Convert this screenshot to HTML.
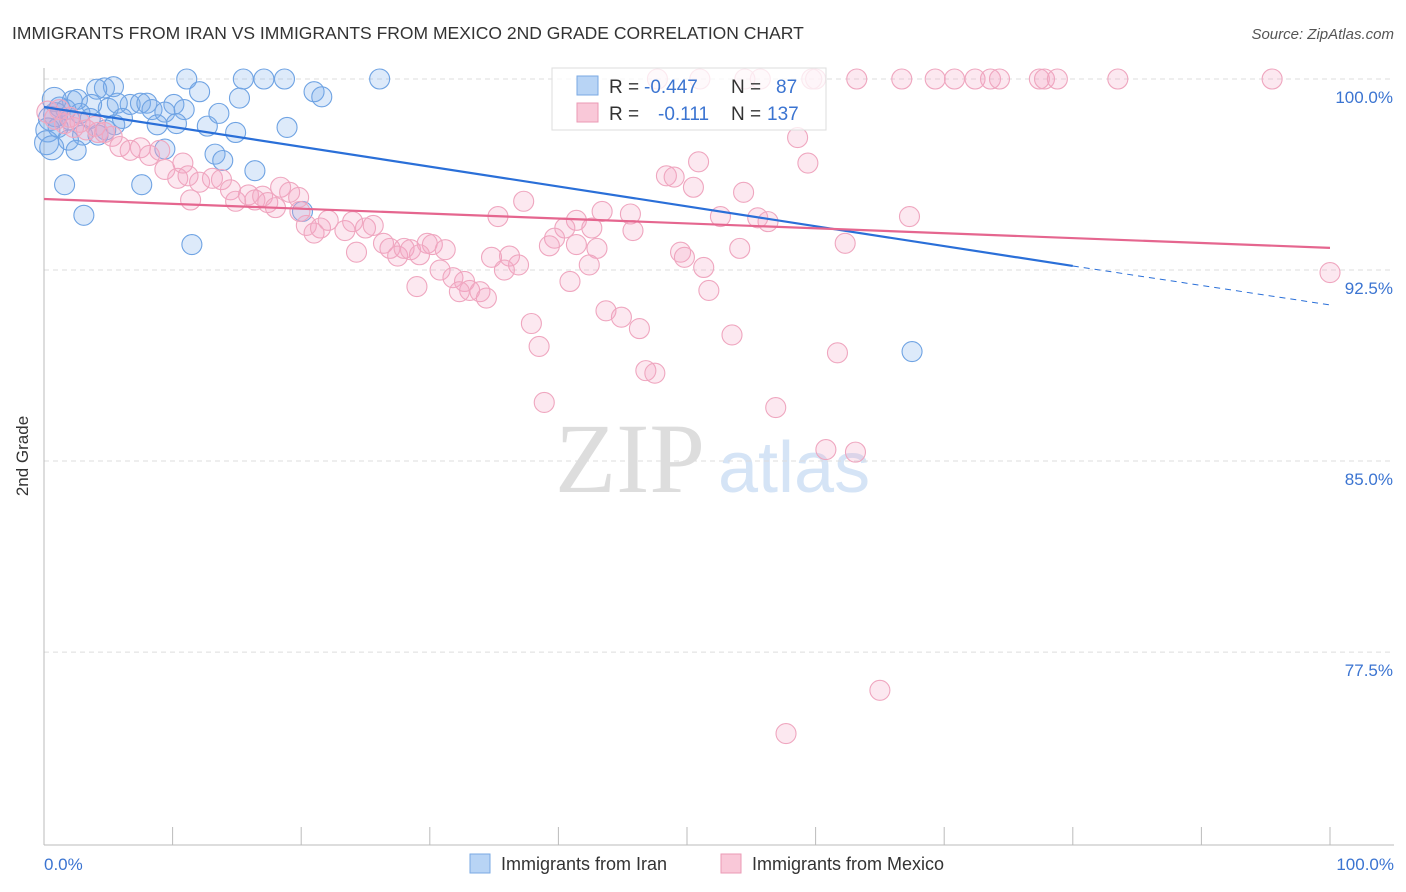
<!DOCTYPE html>
<html><head><meta charset="utf-8"><style>
body{margin:0;background:#fff;font-family:"Liberation Sans",sans-serif}
svg{display:block}
</style></head><body>
<svg id="chart" width="1406" height="892">
<text x="12" y="39" font-size="17.5" fill="#333">IMMIGRANTS FROM IRAN VS IMMIGRANTS FROM MEXICO 2ND GRADE CORRELATION CHART</text>
<text x="1394" y="39" font-size="15" fill="#555" font-style="italic" text-anchor="end">Source: ZipAtlas.com</text>
<text x="555" y="492" font-size="100" font-family="Liberation Serif,serif" fill="#ddd">ZIP</text>
<text x="718" y="492" font-size="72" fill="#d5e4f6">atlas</text>
<g id="grid"></g>
<line x1="44" y1="68" x2="44" y2="845" stroke="#bbb"/>
<line x1="44" y1="845" x2="1394" y2="845" stroke="#bbb"/>
<text x="28" y="456" font-size="17" fill="#333" transform="rotate(-90 28 456)" text-anchor="middle">2nd Grade</text>
<text x="44" y="870" font-size="17" fill="#3b74d1">0.0%</text>
<text x="1394" y="870" font-size="17" fill="#3b74d1" text-anchor="end">100.0%</text>
<g id="pts"></g>
<g id="lines"></g>
<g>
<rect x="552" y="68" width="274" height="62" fill="rgba(255,255,255,0.75)" stroke="#ddd"/>
<rect x="577" y="76" width="21" height="19" fill="#b8d4f5" stroke="#7aa9e3"/>
<rect x="577" y="103" width="21" height="19" fill="#f9c8d8" stroke="#eb9ab5"/>
<text x="609" y="93" font-size="19" fill="#333">R =</text>
<text x="644" y="93" font-size="19" fill="#3b74d1">-0.447</text>
<text x="731" y="93" font-size="19" fill="#333">N =</text>
<text x="776" y="93" font-size="19" fill="#3b74d1">87</text>
<text x="609" y="120" font-size="19" fill="#333">R =</text>
<text x="658" y="120" font-size="19" fill="#3b74d1">-0.111</text>
<text x="731" y="120" font-size="19" fill="#333">N =</text>
<text x="767" y="120" font-size="19" fill="#3b74d1">137</text>
</g>
<g>
<rect x="470" y="854" width="20" height="19" fill="#b8d4f5" stroke="#7aa9e3"/>
<text x="501" y="870" font-size="18" fill="#333">Immigrants from Iran</text>
<rect x="721" y="854" width="20" height="19" fill="#f9c8d8" stroke="#eb9ab5"/>
<text x="752" y="870" font-size="18" fill="#333">Immigrants from Mexico</text>
</g>
</svg>
<script>
const yTicks=[100,92.5,85,77.5];
const yTickLabels=["100.0%","92.5%","85.0%","77.5%"];
const xTicks=[0,10,20,30,40,50,60,70,80,90,100];
const iranX=[11.1,15.5,17.1,18.7,26.1,12.1,21.0,21.6,15.2,4.7,5.4,4.1,2.2,2.6,6.7,7.5,8.0,10.1,10.9,8.4,9.4,5.0,5.7,3.7,1.2,1.7,0.9,0.5,2.8,3.6,5.5,8.8,10.3,12.7,13.6,14.9,18.9,4.8,3.0,1.9,2.5,0.3,0.2,0.6,9.4,13.3,13.9,16.4,1.6,7.6,3.1,11.5,20.1,67.5,4.2,6.1,2.0,1.1,0.8];
const iranY=[100,100,100,100,100,99.5,99.5,99.3,99.25,99.65,99.7,99.6,99.15,99.2,99.0,99.05,99.05,99.0,98.8,98.8,98.7,98.85,99.05,99.0,98.9,98.8,98.6,98.45,98.65,98.45,98.2,98.2,98.25,98.15,98.65,97.9,98.1,98.0,97.8,97.6,97.2,98.0,97.5,97.3,97.25,97.05,96.8,96.4,95.85,95.85,94.65,93.5,94.8,89.3,97.8,98.45,98.4,98.1,99.2];
const mexX=[47.7,51.0,54.5,55.7,59.7,60.0,63.2,66.7,69.3,70.8,72.4,73.6,74.3,77.4,77.8,78.8,83.5,95.5,100,58.6,59.4,50.9,48.4,49.0,50.5,54.4,52.6,55.5,56.3,67.3,62.3,54.1,37.3,35.3,41.4,43.4,45.6,40.5,42.6,45.8,39.7,39.3,41.4,43.0,49.5,49.8,51.3,34.8,36.2,36.9,35.8,42.4,40.9,51.7,30.8,31.8,32.7,33.1,33.9,34.4,32.3,29.0,37.9,38.5,43.7,44.9,46.3,53.5,46.8,47.5,38.9,61.7,56.9,60.8,63.1,65.0,57.7,0.3,0.9,1.6,2.3,3.3,4.2,5.3,5.9,6.7,7.5,8.2,9.0,9.4,10.4,11.4,10.8,12.1,13.1,13.8,14.5,14.9,15.9,16.4,17.0,17.4,18.0,18.4,19.1,19.8,20.4,21.0,21.5,22.1,23.4,24.0,25.0,25.6,26.4,24.3,26.9,27.5,28.0,28.5,29.8,30.2,29.2,31.2,2.0,2.8,4.0,4.7,1.2,11.2,19.9];
const mexY=[100,100,100,100,100,100,100,100,100,100,100,100,100,100,100,100,100,100,92.4,97.7,96.7,96.75,96.2,96.15,95.75,95.55,94.6,94.55,94.4,94.6,93.55,93.35,95.2,94.6,94.45,94.8,94.7,94.15,94.15,94.05,93.75,93.45,93.5,93.35,93.2,93.0,92.6,93.0,93.05,92.7,92.5,92.7,92.05,91.7,92.5,92.2,92.05,91.7,91.65,91.4,91.65,91.85,90.4,89.5,90.9,90.65,90.2,89.95,88.55,88.45,87.3,89.25,87.1,85.45,85.35,76.0,74.3,98.7,98.45,98.25,98.1,98.0,97.9,97.75,97.35,97.2,97.3,97.0,97.2,96.45,96.1,95.25,96.7,95.95,96.1,96.05,95.65,95.2,95.45,95.25,95.4,95.15,94.95,95.75,95.55,95.35,94.25,93.95,94.15,94.45,94.05,94.4,94.15,94.25,93.55,93.2,93.35,93.05,93.35,93.3,93.55,93.5,93.1,93.3,98.5,98.3,98.15,97.9,98.8,96.2,94.8];
const iranTrend=[[0,98.9],[80,92.66],[100,91.13]];
const mexTrend=[[0,95.29],[100,93.37]];
const NS="http://www.w3.org/2000/svg";
const X=v=>44+v*12.86;
const Y=v=>79+(100-v)*25.47;
function mk(t,a,p){const e=document.createElementNS(NS,t);for(const k in a)e.setAttribute(k,a[k]);p.appendChild(e);return e;}
const grid=document.getElementById('grid');
yTicks.forEach((t,i)=>{
 const l=mk('line',{x1:44,x2:1394,y1:Y(t),y2:Y(t),stroke:'#ddd','stroke-dasharray':'5,4'},grid);
 
 
 const tx=mk('text',{x:1393,y:Y(t)+24,'font-size':17,fill:'#3b74d1','text-anchor':'end'},grid);
 tx.textContent=yTickLabels[i];
 
 
});
xTicks.forEach(t=>{
 const l=mk('line',{x1:X(t),x2:X(t),y1:827,y2:845,stroke:'#bbb'},grid);
 
 
});
const pts=document.getElementById('pts');
iranX.forEach((x,i)=>{
 const c=mk('circle',{cx:X(x),cy:Y(iranY[i]),r:(x<1?12:10),fill:'rgba(120,170,235,0.25)',stroke:'#6fa3e3','stroke-width':1.1},pts);
 
 
});
mexX.forEach((x,i)=>{
 const c=mk('circle',{cx:X(x),cy:Y(mexY[i]),r:(x<1?11:10),fill:'rgba(245,165,195,0.25)',stroke:'#efa6bf','stroke-width':1.1},pts);
 
 
});
const lines=document.getElementById('lines');
const b1=mk('line',{x1:X(iranTrend[0][0]),y1:Y(iranTrend[0][1]),x2:X(iranTrend[1][0]),y2:Y(iranTrend[1][1]),stroke:'#2a6fd8','stroke-width':2.2},lines);


const b2=mk('line',{x1:X(iranTrend[1][0]),y1:Y(iranTrend[1][1]),x2:X(iranTrend[2][0]),y2:Y(iranTrend[2][1]),stroke:'#2a6fd8','stroke-width':1,'stroke-dasharray':'6,5'},lines);


const p1=mk('line',{x1:X(mexTrend[0][0]),y1:Y(mexTrend[0][1]),x2:X(mexTrend[1][0]),y2:Y(mexTrend[1][1]),stroke:'#e5668f','stroke-width':2.2},lines);


</script>
</body></html>
